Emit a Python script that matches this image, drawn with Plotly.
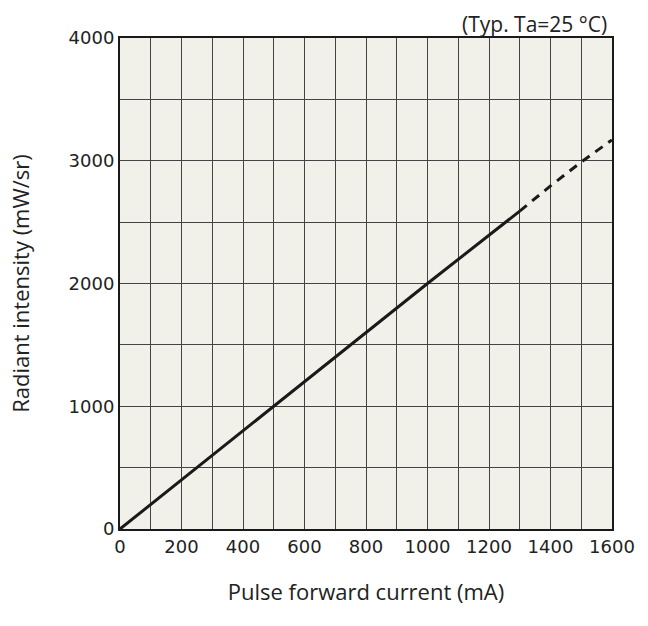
import plotly.graph_objects as go

solid_x = [0, 500, 1000, 1300]
solid_y = [0, 1000, 2000, 2590]
dash_x = [1300, 1400, 1500, 1600]
dash_y = [2590, 2795, 2990, 3170]

x_ticks = [0, 200, 400, 600, 800, 1000, 1200, 1400, 1600]
y_ticks = [0, 1000, 2000, 3000, 4000]

fig = go.Figure()
fig.add_trace(go.Scatter(x=solid_x, y=solid_y, mode="lines",
                         line=dict(color="#1a1a1a", width=3), showlegend=False))
fig.add_trace(go.Scatter(x=dash_x, y=dash_y, mode="lines",
                         line=dict(color="#1a1a1a", width=3, dash="9px,7px"), showlegend=False))

font = dict(family="DejaVu Sans, Verdana, sans-serif", size=18, color="#222222")
fig.update_layout(
    width=648, height=626,
    margin=dict(l=120, r=36, t=38, b=97),
    paper_bgcolor="white", plot_bgcolor="#f1f0e9",
    font=font,
    xaxis=dict(range=[0, 1600], tickvals=x_ticks, ticktext=[str(v) for v in x_ticks],
               showgrid=True, gridcolor="#444444", gridwidth=1,
               minor=dict(tickvals=[100*i for i in range(17)], showgrid=True, gridcolor="#444444"),
               showline=True, linecolor="#1a1a1a", linewidth=2, mirror=True,
               ticks="", zeroline=False, fixedrange=True,
               title=dict(text="Pulse forward current (mA)",
                          font=dict(family="Open Sans, sans-serif", size=22), standoff=29)),
    yaxis=dict(range=[0, 4000], tickvals=y_ticks, ticktext=[str(v) for v in y_ticks],
               showgrid=True, gridcolor="#444444", gridwidth=1,
               minor=dict(tickvals=[500*i for i in range(9)], showgrid=True, gridcolor="#444444"),
               showline=True, linecolor="#1a1a1a", linewidth=2, mirror=True,
               ticks="", zeroline=False, fixedrange=True,
               title=dict(text="Radiant intensity (mW/sr)",
                          font=dict(family="Open Sans, sans-serif", size=22), standoff=33)),
    annotations=[dict(text="(Typ. Ta=25 °C)", xref="paper", yref="paper", x=1, y=1,
                      xanchor="right", yanchor="bottom", yshift=-2, xshift=-3, showarrow=False,
                      font=dict(family="Open Sans, sans-serif", size=21, color="#222222"))],
)
fig.write_html("out.html")
